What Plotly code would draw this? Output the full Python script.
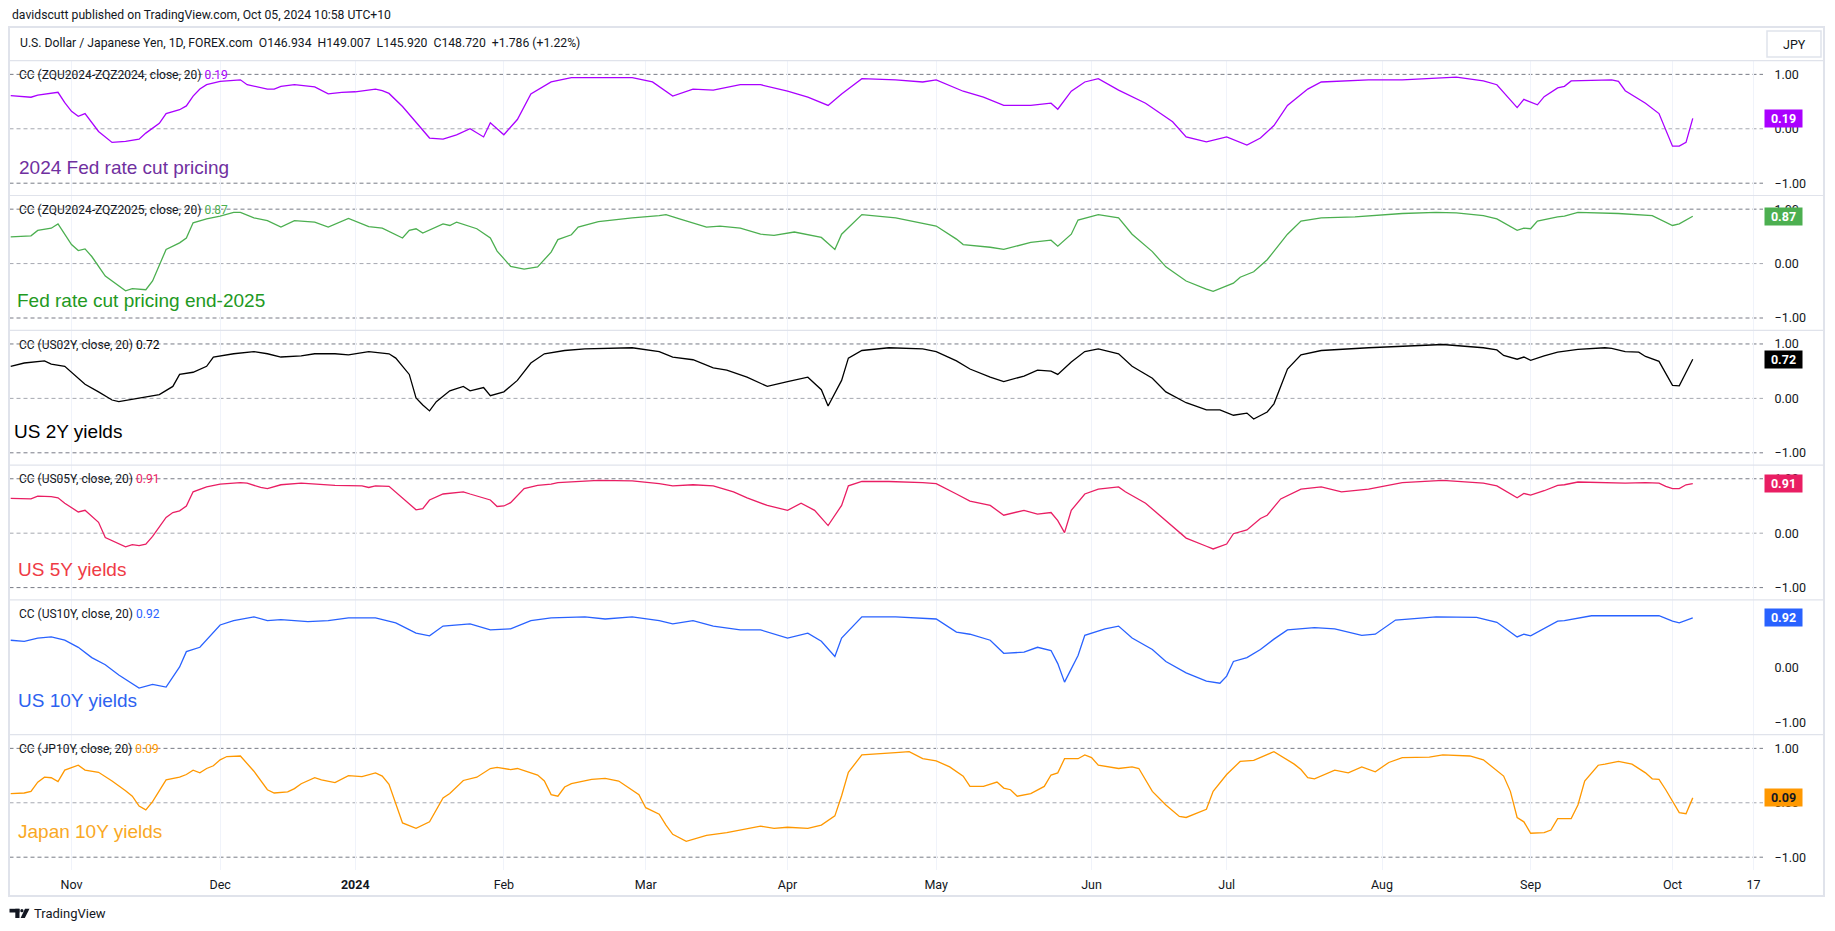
import plotly.graph_objects as go
from plotly.subplots import make_subplots

W, H = 1835, 931

# ---------------- data (correlation coefficient, 20-day) ----------------
p1_dates = ["2023-10-19","2023-10-24","2023-10-25","2023-10-30","2023-10-31","2023-11-01","2023-11-02","2023-11-03",
            "2023-11-07","2023-11-09","2023-11-13","2023-11-15","2023-11-16","2023-11-20","2023-11-21","2023-11-23",
            "2023-11-24","2023-11-27","2023-11-28","2023-11-29","2023-12-01","2023-12-06","2023-12-07","2023-12-12",
            "2023-12-13","2023-12-14","2023-12-18","2023-12-21","2023-12-26","2023-12-28","2024-01-02","2024-01-05",
            "2024-01-08","2024-01-09","2024-01-11","2024-01-17","2024-01-19","2024-01-23","2024-01-25","2024-01-29",
            "2024-01-30","2024-02-01","2024-02-05","2024-02-07","2024-02-12","2024-02-15","2024-02-28","2024-03-04",
            "2024-03-07","2024-03-12","2024-03-15","2024-03-21","2024-03-26","2024-04-01","2024-04-04","2024-04-09",
            "2024-04-11","2024-04-16","2024-04-23","2024-04-29","2024-05-01","2024-05-07","2024-05-10","2024-05-15",
            "2024-05-21","2024-05-24","2024-05-27","2024-05-29","2024-05-31","2024-06-04","2024-06-07","2024-06-13",
            "2024-06-19","2024-06-21","2024-06-26","2024-07-01","2024-07-04","2024-07-08","2024-07-10","2024-07-12",
            "2024-07-17","2024-07-19","2024-07-30","2024-08-06","2024-08-16","2024-08-22","2024-08-26","2024-08-29",
            "2024-08-30","2024-09-03","2024-09-04","2024-09-06","2024-09-09","2024-09-10","2024-09-18","2024-09-19",
            "2024-09-20","2024-09-23","2024-09-25","2024-09-27","2024-10-01","2024-10-02","2024-10-03","2024-10-04"]
p1_vals = [0.61,0.58,0.62,0.67,0.48,0.32,0.23,0.28,
           -0.05,-0.25,-0.23,-0.19,-0.08,0.10,0.28,0.35,
           0.42,0.60,0.73,0.81,0.87,0.90,0.81,0.73,
           0.73,0.78,0.81,0.77,0.64,0.67,0.68,0.73,
           0.70,0.65,0.41,-0.17,-0.19,-0.11,0.00,-0.15,
           0.11,-0.11,0.17,0.64,0.86,0.94,0.94,0.86,
           0.60,0.73,0.71,0.81,0.81,0.69,0.58,0.43,
           0.64,0.92,0.90,0.86,0.90,0.69,0.58,0.43,
           0.43,0.47,0.36,0.69,0.86,0.92,0.71,0.47,
           0.13,-0.15,-0.24,-0.15,-0.30,-0.17,0.06,0.43,
           0.73,0.86,0.90,0.90,0.95,0.88,0.81,0.39,
           0.54,0.44,0.59,0.75,0.78,0.88,0.90,0.87,
           0.70,0.62,0.47,0.28,-0.32,-0.32,-0.25,0.19]

p2_dates = ["2023-10-19","2023-10-24","2023-10-25","2023-10-27","2023-10-30","2023-11-01","2023-11-02","2023-11-03",
            "2023-11-06","2023-11-08","2023-11-13","2023-11-14","2023-11-16","2023-11-17","2023-11-21","2023-11-23",
            "2023-11-24","2023-11-27","2023-11-29","2023-12-01","2023-12-05","2023-12-06","2023-12-08","2023-12-12",
            "2023-12-14","2023-12-18","2023-12-21","2023-12-26","2023-12-29","2024-01-04","2024-01-08","2024-01-11",
            "2024-01-12","2024-01-15","2024-01-16","2024-01-19","2024-01-22","2024-01-23","2024-01-26","2024-01-30",
            "2024-01-31","2024-02-02","2024-02-06","2024-02-08","2024-02-12","2024-02-13","2024-02-15","2024-02-16",
            "2024-02-21","2024-02-28","2024-03-05","2024-03-06","2024-03-08","2024-03-12","2024-03-14","2024-03-18",
            "2024-03-21","2024-03-26","2024-03-28","2024-04-02","2024-04-08","2024-04-10","2024-04-11","2024-04-16",
            "2024-04-23","2024-05-01","2024-05-06","2024-05-07","2024-05-13","2024-05-15","2024-05-21","2024-05-24",
            "2024-05-27","2024-05-29","2024-05-30","2024-06-04","2024-06-07","2024-06-11","2024-06-14","2024-06-18",
            "2024-06-21","2024-06-26","2024-06-27","2024-07-02","2024-07-03","2024-07-05","2024-07-09","2024-07-12",
            "2024-07-16","2024-07-19","2024-07-26","2024-08-06","2024-08-13","2024-08-16","2024-08-22","2024-08-26",
            "2024-08-29","2024-08-30","2024-09-02","2024-09-03","2024-09-06","2024-09-09","2024-09-11","2024-09-19",
            "2024-09-23","2024-09-26","2024-10-01","2024-10-02","2024-10-04"]
p2_vals = [0.49,0.51,0.61,0.65,0.73,0.35,0.24,0.27,
           0.13,-0.23,-0.50,-0.46,-0.48,-0.32,0.26,0.38,
           0.47,0.75,0.82,0.87,0.94,0.94,0.84,0.79,
           0.67,0.79,0.76,0.67,0.83,0.68,0.65,0.47,
           0.61,0.64,0.56,0.73,0.70,0.76,0.64,0.47,
           0.23,-0.05,-0.10,-0.06,0.21,0.44,0.53,0.67,
           0.77,0.84,0.88,0.90,0.82,0.75,0.67,0.69,
           0.65,0.54,0.52,0.58,0.48,0.26,0.54,0.90,
           0.84,0.69,0.45,0.35,0.30,0.26,0.39,0.43,
           0.32,0.54,0.80,0.90,0.84,0.54,0.22,-0.06,
           -0.32,-0.47,-0.51,-0.36,-0.25,-0.15,0.07,0.54,
           0.78,0.84,0.86,0.92,0.94,0.93,0.88,0.82,
           0.61,0.65,0.64,0.78,0.86,0.87,0.94,0.92,
           0.90,0.88,0.70,0.73,0.87]

p3_dates = ["2023-10-19","2023-10-23","2023-10-26","2023-10-27","2023-10-31","2023-11-01","2023-11-03","2023-11-07",
            "2023-11-09","2023-11-10","2023-11-15","2023-11-20","2023-11-22","2023-11-23","2023-11-27","2023-11-29",
            "2023-11-30","2023-12-05","2023-12-08","2023-12-12","2023-12-14","2023-12-19","2023-12-21","2023-12-27",
            "2023-12-29","2024-01-04","2024-01-09","2024-01-10","2024-01-12","2024-01-15","2024-01-16","2024-01-17",
            "2024-01-18","2024-01-22","2024-01-24","2024-01-25","2024-01-29","2024-01-30","2024-02-01","2024-02-05",
            "2024-02-07","2024-02-09","2024-02-14","2024-02-19","2024-02-28","2024-03-05","2024-03-07","2024-03-12",
            "2024-03-15","2024-03-19","2024-03-22","2024-03-27","2024-04-01","2024-04-04","2024-04-08","2024-04-09",
            "2024-04-11","2024-04-12","2024-04-16","2024-04-22","2024-04-29","2024-05-01","2024-05-06","2024-05-08",
            "2024-05-13","2024-05-15","2024-05-20","2024-05-22","2024-05-24","2024-05-27","2024-05-29","2024-05-31",
            "2024-06-04","2024-06-07","2024-06-11","2024-06-14","2024-06-18","2024-06-21","2024-06-26","2024-06-28",
            "2024-07-02","2024-07-04","2024-07-05","2024-07-09","2024-07-10","2024-07-12","2024-07-16","2024-07-19",
            "2024-07-30","2024-08-06","2024-08-14","2024-08-22","2024-08-26","2024-08-27","2024-08-29","2024-08-30",
            "2024-09-02","2024-09-04","2024-09-06","2024-09-11","2024-09-17","2024-09-18","2024-09-20","2024-09-24",
            "2024-09-25","2024-09-27","2024-10-01","2024-10-02","2024-10-04"]
p3_vals = [0.59,0.65,0.69,0.63,0.59,0.48,0.26,0.12,
           -0.03,-0.06,0.01,0.07,0.22,0.44,0.48,0.59,
           0.76,0.82,0.86,0.82,0.76,0.78,0.82,0.82,
           0.80,0.86,0.82,0.74,0.44,0.01,-0.12,-0.23,
           -0.06,0.14,0.22,0.14,0.20,0.05,0.12,0.33,
           0.65,0.82,0.88,0.91,0.93,0.86,0.76,0.71,
           0.56,0.52,0.39,0.22,0.31,0.39,0.16,-0.14,
           0.33,0.74,0.88,0.93,0.91,0.86,0.69,0.54,
           0.39,0.31,0.41,0.52,0.50,0.44,0.67,0.86,
           0.91,0.82,0.59,0.37,0.12,-0.08,-0.21,-0.21,
           -0.31,-0.27,-0.38,-0.25,-0.10,0.54,0.80,0.88,
           0.93,0.96,0.99,0.93,0.89,0.79,0.72,0.76,
           0.70,0.78,0.85,0.90,0.93,0.92,0.86,0.85,
           0.77,0.68,0.24,0.23,0.72]

p4_dates = ["2023-10-19","2023-10-24","2023-10-25","2023-10-27","2023-10-30","2023-10-31","2023-11-02","2023-11-03",
            "2023-11-07","2023-11-08","2023-11-13","2023-11-14","2023-11-15","2023-11-16","2023-11-17","2023-11-21",
            "2023-11-22","2023-11-23","2023-11-24","2023-11-27","2023-11-29","2023-12-01","2023-12-06","2023-12-07",
            "2023-12-11","2023-12-12","2023-12-14","2023-12-19","2023-12-27","2024-01-03","2024-01-04","2024-01-05",
            "2024-01-09","2024-01-11","2024-01-15","2024-01-16","2024-01-17","2024-01-19","2024-01-24","2024-01-25",
            "2024-01-29","2024-01-30","2024-01-31","2024-02-01","2024-02-02","2024-02-06","2024-02-08","2024-02-12",
            "2024-02-13","2024-02-20","2024-02-21","2024-02-28","2024-03-05","2024-03-07","2024-03-12","2024-03-15",
            "2024-03-20","2024-03-22","2024-03-27","2024-04-01","2024-04-03","2024-04-05","2024-04-09","2024-04-11",
            "2024-04-12","2024-04-16","2024-04-22","2024-04-29","2024-05-01","2024-05-06","2024-05-08","2024-05-13",
            "2024-05-15","2024-05-20","2024-05-22","2024-05-24","2024-05-27","2024-05-28","2024-05-29","2024-05-31",
            "2024-06-04","2024-06-07","2024-06-10","2024-06-13","2024-06-18","2024-06-21","2024-06-26","2024-06-27",
            "2024-07-01","2024-07-02","2024-07-04","2024-07-08","2024-07-09","2024-07-11","2024-07-16","2024-07-19",
            "2024-07-24","2024-07-30","2024-08-06","2024-08-14","2024-08-22","2024-08-26","2024-08-29","2024-08-30",
            "2024-09-02","2024-09-04","2024-09-06","2024-09-09","2024-09-11","2024-09-20","2024-09-25","2024-09-27",
            "2024-09-30","2024-10-01","2024-10-02","2024-10-03","2024-10-04"]
p4_vals = [0.64,0.63,0.68,0.67,0.65,0.55,0.39,0.42,
           0.20,-0.08,-0.25,-0.21,-0.23,-0.20,-0.06,0.29,
           0.38,0.41,0.50,0.76,0.85,0.90,0.93,0.92,
           0.84,0.82,0.89,0.92,0.88,0.87,0.84,0.87,
           0.86,0.65,0.43,0.45,0.61,0.72,0.76,0.72,
           0.64,0.61,0.49,0.50,0.56,0.82,0.88,0.90,
           0.93,0.96,0.97,0.96,0.91,0.87,0.89,0.87,
           0.76,0.65,0.51,0.42,0.55,0.42,0.14,0.51,
           0.87,0.95,0.95,0.93,0.91,0.72,0.59,0.51,
           0.33,0.42,0.35,0.38,0.23,0.01,0.42,0.72,
           0.81,0.85,0.76,0.55,0.23,-0.09,-0.24,-0.29,
           -0.20,-0.01,0.06,0.27,0.33,0.63,0.81,0.85,
           0.76,0.81,0.93,0.97,0.92,0.87,0.65,0.73,
           0.70,0.78,0.88,0.89,0.94,0.92,0.93,0.92,
           0.86,0.82,0.82,0.89,0.91]

p5_dates = ["2023-10-19","2023-10-23","2023-10-25","2023-10-27","2023-10-31","2023-11-02","2023-11-06","2023-11-08",
            "2023-11-10","2023-11-14","2023-11-15","2023-11-17","2023-11-21","2023-11-23","2023-11-24","2023-11-28",
            "2023-11-30","2023-12-01","2023-12-05","2023-12-08","2023-12-12","2023-12-14","2023-12-20","2023-12-26",
            "2023-12-29","2024-01-05","2024-01-10","2024-01-15","2024-01-17","2024-01-19","2024-01-25","2024-01-30",
            "2024-02-02","2024-02-07","2024-02-12","2024-02-19","2024-02-22","2024-02-28","2024-03-05","2024-03-07",
            "2024-03-12","2024-03-15","2024-03-21","2024-03-26","2024-04-01","2024-04-04","2024-04-08","2024-04-10",
            "2024-04-11","2024-04-16","2024-04-23","2024-05-01","2024-05-06","2024-05-08","2024-05-13","2024-05-15",
            "2024-05-20","2024-05-22","2024-05-24","2024-05-27","2024-05-28","2024-05-30","2024-05-31","2024-06-05",
            "2024-06-07","2024-06-11","2024-06-14","2024-06-18","2024-06-21","2024-06-26","2024-06-28","2024-07-01",
            "2024-07-02","2024-07-04","2024-07-08","2024-07-10","2024-07-12","2024-07-18","2024-07-23","2024-07-29",
            "2024-07-31","2024-08-05","2024-08-13","2024-08-21","2024-08-26","2024-08-29","2024-08-30","2024-09-02",
            "2024-09-06","2024-09-09","2024-09-13","2024-09-25","2024-09-27","2024-10-01","2024-10-02","2024-10-04"]
p5_vals = [0.51,0.49,0.55,0.57,0.51,0.38,0.19,0.06,
           -0.13,-0.30,-0.37,-0.30,-0.35,0.02,0.30,0.38,
           0.66,0.79,0.87,0.94,0.87,0.89,0.85,0.87,
           0.92,0.92,0.83,0.64,0.59,0.77,0.81,0.70,
           0.72,0.87,0.92,0.94,0.90,0.94,0.87,0.81,
           0.87,0.77,0.70,0.70,0.55,0.64,0.49,0.21,
           0.55,0.94,0.94,0.90,0.66,0.62,0.51,0.27,
           0.29,0.38,0.32,0.08,-0.26,0.23,0.60,0.72,
           0.77,0.55,0.34,0.12,-0.09,-0.24,-0.28,-0.15,
           0.12,0.19,0.34,0.53,0.70,0.74,0.72,0.60,
           0.62,0.88,0.94,0.93,0.84,0.57,0.62,0.59,
           0.86,0.87,0.96,0.97,0.96,0.86,0.83,0.92]

p6_dates = ["2023-10-19","2023-10-23","2023-10-24","2023-10-25","2023-10-26","2023-10-27","2023-10-30","2023-10-31",
            "2023-11-02","2023-11-03","2023-11-07","2023-11-09","2023-11-13","2023-11-14","2023-11-15","2023-11-16",
            "2023-11-17","2023-11-21","2023-11-23","2023-11-24","2023-11-27","2023-11-28","2023-11-29","2023-11-30",
            "2023-12-01","2023-12-04","2023-12-06","2023-12-08","2023-12-12","2023-12-13","2023-12-15","2023-12-18",
            "2023-12-19","2023-12-21","2023-12-22","2023-12-27","2023-12-29","2024-01-03","2024-01-05","2024-01-08",
            "2024-01-09","2024-01-11","2024-01-15","2024-01-17","2024-01-19","2024-01-22","2024-01-24","2024-01-26",
            "2024-01-30","2024-01-31","2024-02-02","2024-02-05","2024-02-08","2024-02-09","2024-02-12","2024-02-13",
            "2024-02-14","2024-02-15","2024-02-20","2024-02-22","2024-02-26","2024-02-29","2024-03-01","2024-03-05",
            "2024-03-06","2024-03-07","2024-03-11","2024-03-13","2024-03-14","2024-03-19","2024-03-22","2024-03-26",
            "2024-03-28","2024-04-01","2024-04-04","2024-04-08","2024-04-10","2024-04-11","2024-04-12","2024-04-16",
            "2024-04-23","2024-04-25","2024-04-29","2024-05-01","2024-05-03","2024-05-07","2024-05-08","2024-05-10",
            "2024-05-14","2024-05-15","2024-05-16","2024-05-17","2024-05-21","2024-05-23","2024-05-24","2024-05-27",
            "2024-05-28","2024-05-30","2024-05-31","2024-06-03","2024-06-04","2024-06-07","2024-06-11","2024-06-12",
            "2024-06-14","2024-06-18","2024-06-20","2024-06-21","2024-06-26","2024-06-27","2024-07-01","2024-07-03",
            "2024-07-05","2024-07-10","2024-07-15","2024-07-16","2024-07-17","2024-07-18","2024-07-23","2024-07-25",
            "2024-07-29","2024-07-31","2024-08-02","2024-08-06","2024-08-12","2024-08-14","2024-08-20","2024-08-22",
            "2024-08-27","2024-08-28","2024-08-29","2024-08-30","2024-09-02","2024-09-04","2024-09-05","2024-09-06",
            "2024-09-10","2024-09-11","2024-09-12","2024-09-16","2024-09-17","2024-09-19","2024-09-23","2024-09-25",
            "2024-09-26","2024-09-27","2024-09-30","2024-10-01","2024-10-02","2024-10-03","2024-10-04"]
p6_vals = [0.17,0.18,0.21,0.38,0.47,0.46,0.39,0.60,
           0.69,0.60,0.56,0.40,0.22,0.12,-0.06,-0.13,
           0.02,0.42,0.47,0.52,0.60,0.55,0.63,0.68,
           0.79,0.85,0.86,0.58,0.24,0.18,0.20,0.26,
           0.35,0.46,0.42,0.37,0.50,0.48,0.55,0.49,
           0.34,-0.37,-0.47,-0.35,0.09,0.17,0.41,0.47,
           0.63,0.65,0.61,0.63,0.51,0.40,0.15,0.12,
           0.29,0.35,0.43,0.45,0.40,0.15,-0.09,-0.21,
           -0.41,-0.58,-0.71,-0.64,-0.60,-0.55,-0.47,-0.43,
           -0.47,-0.45,-0.47,-0.41,-0.24,0.13,0.56,0.88,
           0.92,0.94,0.81,0.77,0.66,0.49,0.30,0.30,
           0.38,0.27,0.24,0.12,0.17,0.30,0.51,0.55,
           0.81,0.81,0.88,0.83,0.69,0.63,0.66,0.63,
           0.21,-0.04,-0.25,-0.27,-0.12,0.21,0.52,0.76,
           0.78,0.94,0.71,0.61,0.46,0.44,0.60,0.55,
           0.66,0.57,0.74,0.83,0.84,0.88,0.86,0.79,
           0.49,0.21,-0.27,-0.35,-0.56,-0.55,-0.50,-0.29,
           -0.29,-0.04,0.40,0.69,0.71,0.76,0.71,0.55,
           0.44,0.43,0.24,0.02,-0.18,-0.20,0.09]

series_names = ["ZQU2024-ZQZ2024", "ZQU2024-ZQZ2025", "US02Y", "US05Y", "US10Y", "JP10Y"]
panel_titles = ["2024 Fed rate cut pricing", "Fed rate cut pricing end-2025", "US 2Y yields",
                "US 5Y yields", "US 10Y yields", "Japan 10Y yields"]
all_dates = [p1_dates, p2_dates, p3_dates, p4_dates, p5_dates, p6_dates]
all_vals = [p1_vals, p2_vals, p3_vals, p4_vals, p5_vals, p6_vals]

tick_dates = ["2023-11-01","2023-12-01","2024-01-02","2024-02-01","2024-03-01","2024-04-01","2024-05-01",
              "2024-06-03","2024-07-01","2024-08-01","2024-09-02","2024-10-01","2024-10-17"]
tick_text = ["Nov","Dec","<b>2024</b>","Feb","Mar","Apr","May","Jun","Jul","Aug","Sep","Oct","17"]
y_ticks = [-1, 0, 1]

# ---------------- styling ----------------
line_colors = ["#AA00FF", "#4CAF50", "#000000", "#E91E63", "#2962FF", "#FF9800"]
badge_text_colors = ["#FFFFFF", "#FFFFFF", "#FFFFFF", "#FFFFFF", "#FFFFFF", "#131722"]
title_colors = ["#7030A0", "#229922", "#000000", "#EF3B45", "#2D62F0", "#F9A825"]
title_y = [167.7, 301.0, 432.0, 569.3, 700.0, 831.7]
title_x = [17.0, 14.5, 12.0, 16.0, 16.4, 16.0]

UI = "Roboto, Arial, sans-serif"
TXT = "#131722"
tops = [60.7, 195.5, 330.3, 465.1, 599.9, 734.7]
PH = 134.8
X0, X1, XR = 9.5, 1763.0, 1824.0
YR = [-1.226, 1.251]


def fx(p):
    return p / W


def fy(p):
    return 1 - p / H


fig = make_subplots(rows=6, cols=1, shared_xaxes=True, vertical_spacing=0)

for k in range(6):
    fig.add_trace(go.Scatter(x=all_dates[k], y=all_vals[k], mode="lines",
                             line=dict(color=line_colors[k], width=1.3),
                             hoverinfo="skip", showlegend=False), row=k + 1, col=1)

fig.update_xaxes(type="date",
                 range=["2023-10-18 19:40", "2024-10-18 09:30"],
                 rangebreaks=[dict(bounds=["sat", "mon"]),
                              dict(values=["2023-12-25", "2024-01-01"])],
                 domain=[fx(X0), fx(X1)],
                 tickmode="array", tickvals=tick_dates, ticktext=tick_text,
                 showgrid=True, gridcolor="#F0F3FA", gridwidth=1,
                 zeroline=False, showline=False,
                 ticks="outside", ticklen=3, tickcolor="rgba(0,0,0,0)",
                 tickfont=dict(family=UI, size=12.5, color=TXT),
                 fixedrange=True)

for k in range(6):
    name = "yaxis" if k == 0 else f"yaxis{k + 1}"
    fig.layout[name].update(domain=[fy(tops[k] + PH), fy(tops[k])], range=YR,
                            side="right", tickmode="array", tickvals=y_ticks,
                            tickformat=".2f", showgrid=False, zeroline=False, showline=False,
                            ticks="outside", ticklen=8, tickcolor="rgba(0,0,0,0)",
                            tickfont=dict(family=UI, size=12.5, color=TXT),
                            fixedrange=True)

shapes = []
# outer frame
shapes.append(dict(type="rect", xref="paper", yref="paper", x0=fx(9), x1=fx(XR), y0=fy(896), y1=fy(27),
                   line=dict(color="#E0E3EB", width=2), fillcolor="rgba(0,0,0,0)", layer="above"))
# header divider + pane separators
for yy in [60.7] + [t for t in tops[1:]]:
    shapes.append(dict(type="line", xref="paper", yref="paper", x0=fx(9), x1=fx(XR), y0=fy(yy), y1=fy(yy),
                       line=dict(color="#E0E3EB", width=1.2)))
# dashed band lines
for k in range(6):
    yref = "y" if k == 0 else f"y{k + 1}"
    for v in y_ticks:
        shapes.append(dict(type="line", xref="paper", yref=yref, x0=fx(X0), x1=fx(X1), y0=v, y1=v,
                           line=dict(color="#A5A8B0" if v == 0 else "#787B86", width=1, dash="4px,3px"),
                           layer="below"))
# JPY button
shapes.append(dict(type="rect", xref="paper", yref="paper", x0=fx(1767), x1=fx(1821), y0=fy(57), y1=fy(31),
                   line=dict(color="#E0E3EB", width=1.5), fillcolor="#FFFFFF"))
# TradingView footer logo (simple glyph)
LOGO = "#131722"
shapes.append(dict(type="rect", xref="paper", yref="paper", x0=fx(9.5), x1=fx(19.5), y0=fy(912.5), y1=fy(908.8),
                   line=dict(width=0), fillcolor=LOGO))
shapes.append(dict(type="rect", xref="paper", yref="paper", x0=fx(15.3), x1=fx(19.5), y0=fy(918), y1=fy(908.8),
                   line=dict(width=0), fillcolor=LOGO))
shapes.append(dict(type="circle", xref="paper", yref="paper", x0=fx(20.3), x1=fx(23.5), y0=fy(912.3), y1=fy(909.1),
                   line=dict(width=0), fillcolor=LOGO))
shapes.append(dict(type="path", xref="paper", yref="paper",
                   path=f"M {fx(25.0)} {fy(908.8)} L {fx(29.5)} {fy(908.8)} L {fx(24.8)} {fy(918)} L {fx(20.6)} {fy(918)} Z",
                   line=dict(width=0), fillcolor=LOGO))

ann = []
ann.append(dict(text="davidscutt published on TradingView.com, Oct 05, 2024 10:58 UTC+10",
                x=fx(10), y=fy(15), xref="paper", yref="paper", xanchor="left", yanchor="middle",
                showarrow=False, font=dict(family=UI, size=12.2, color=TXT)))
ann.append(dict(text="U.S. Dollar / Japanese Yen, 1D, FOREX.com \u00a0O146.934 \u00a0H149.007 \u00a0L145.920 \u00a0C148.720 \u00a0+1.786 (+1.22%)",
                x=fx(17.5), y=fy(42.5), xref="paper", yref="paper", xanchor="left", yanchor="middle",
                showarrow=False, font=dict(family=UI, size=12.2, color=TXT)))
ann.append(dict(text="JPY", x=fx(1794), y=fy(44), xref="paper", yref="paper", xanchor="center",
                yanchor="middle", showarrow=False, font=dict(family=UI, size=12.5, color=TXT)))
ann.append(dict(text="TradingView", x=fx(31.5), y=fy(913.5), xref="paper", yref="paper", xanchor="left",
                yanchor="middle", showarrow=False, font=dict(family=UI, size=13, color=TXT)))

for k in range(6):
    yref = "y" if k == 0 else f"y{k + 1}"
    last = all_vals[k][-1]
    ann.append(dict(text=f"CC ({series_names[k]}, close, 20) <span style='color:{line_colors[k]}'>{last:.2f}</span>",
                    x=fx(16.5), y=fy(tops[k] + 14.3), xref="paper", yref="paper", xanchor="left",
                    yanchor="middle", showarrow=False, font=dict(family=UI, size=12, color=TXT)))
    ann.append(dict(text=panel_titles[k], x=fx(title_x[k]), y=fy(title_y[k]), xref="paper", yref="paper",
                    xanchor="left", yanchor="middle", showarrow=False,
                    font=dict(family="Liberation Sans, Arial, sans-serif", size=19, color=title_colors[k])))
    ann.append(dict(text=f"<b>{last:.2f}</b>", x=fx(1764), y=last, xref="paper", yref=yref,
                    xanchor="left", yanchor="middle", showarrow=False, align="center",
                    width=33, height=13, borderpad=2, bgcolor=line_colors[k],
                    font=dict(family=UI, size=12.5, color=badge_text_colors[k])))

fig.update_layout(width=W, height=H, autosize=False, margin=dict(l=0, r=0, t=0, b=0),
                  paper_bgcolor="#FFFFFF", plot_bgcolor="#FFFFFF",
                  shapes=shapes, annotations=ann, showlegend=False,
                  hovermode=False)

fig.write_html("out.html", config={"displayModeBar": False},
               post_script="document.body.style.margin='0px';document.body.style.overflow='hidden';")
